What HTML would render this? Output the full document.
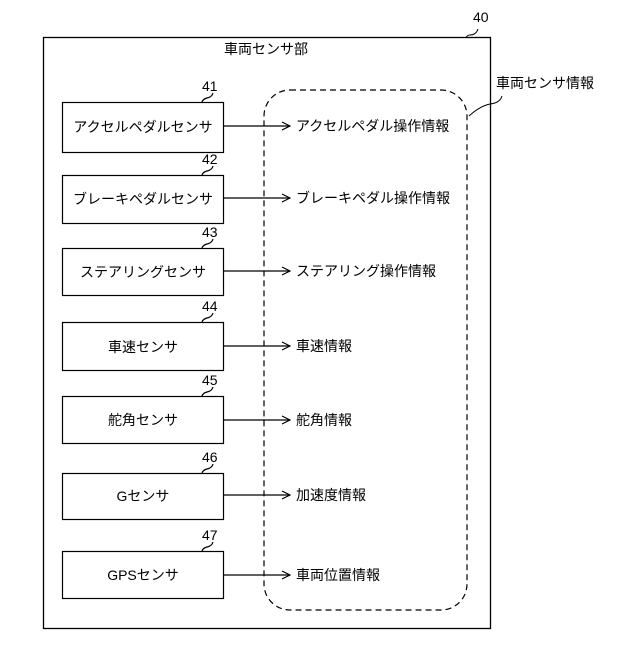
<!DOCTYPE html>
<html><head><meta charset="utf-8"><style>
body{margin:0;background:#fff}
text{font-family:"Liberation Sans","Noto Sans CJK JP",sans-serif;font-size:14px;fill:#000}
</style></head><body>
<svg width="640" height="640" viewBox="0 0 640 640" xmlns="http://www.w3.org/2000/svg">
<defs><marker id="a" markerWidth="10" markerHeight="10" refX="9" refY="5" orient="auto" markerUnits="userSpaceOnUse"><path d="M1,1 L9,5 L1,9" fill="none" stroke="#000" stroke-width="1.2"/></marker></defs>
<rect x="43.5" y="37.5" width="447" height="591" fill="none" stroke="#000" stroke-width="1.3"/>
<text x="473" y="22" font-size="15">40</text>
<path d="M478,29 q-2,6 -8,6 q-3,0 -4,3" fill="none" stroke="#000"/>
<text x="266" y="54" text-anchor="middle">車両センサ部</text>
<rect x="264" y="90" width="203" height="520" rx="26" fill="none" stroke="#000" stroke-width="1.2" stroke-dasharray="6,4"/>
<text x="496" y="88">車両センサ情報</text>
<path d="M502,96 q-2,7 -12,8 q-10,2 -21,12" fill="none" stroke="#000"/>
<g stroke="#000" stroke-width="1.2" fill="none">
<rect x="62.5" y="102.5" width="161" height="50"/>
<rect x="62.5" y="175.5" width="161" height="48"/>
<rect x="62.5" y="248.5" width="161" height="47"/>
<rect x="62.5" y="322.5" width="161" height="48"/>
<rect x="62.5" y="396.5" width="161" height="47"/>
<rect x="62.5" y="473.5" width="161" height="46"/>
<rect x="62.5" y="551.5" width="161" height="47"/>
<g marker-end="url(#a)">
<line x1="224" y1="126" x2="290" y2="126"/>
<line x1="224" y1="198" x2="290" y2="198"/>
<line x1="224" y1="271" x2="290" y2="271"/>
<line x1="224" y1="346" x2="290" y2="346"/>
<line x1="224" y1="420" x2="290" y2="420"/>
<line x1="224" y1="495" x2="290" y2="495"/>
<line x1="224" y1="575" x2="290" y2="575"/>
</g>
<path d="M213,93 q-1,4 -6,5 q-4,1 -5,4"/>
<path d="M213,166 q-1,4 -6,5 q-4,1 -5,4"/>
<path d="M213,239 q-1,4 -6,5 q-4,1 -5,4"/>
<path d="M213,313 q-1,4 -6,5 q-4,1 -5,4"/>
<path d="M213,387 q-1,4 -6,5 q-4,1 -5,4"/>
<path d="M213,464 q-1,4 -6,5 q-4,1 -5,4"/>
<path d="M213,542 q-1,4 -6,5 q-4,1 -5,4"/>
</g>
<g font-size="15">
<text x="202" y="91">41</text><text x="202" y="164">42</text><text x="202" y="237">43</text>
<text x="202" y="311">44</text><text x="202" y="385">45</text><text x="202" y="462">46</text><text x="202" y="540">47</text>
</g>
<g text-anchor="middle">
<text x="143" y="132">アクセルペダルセンサ</text>
<text x="143" y="204">ブレーキペダルセンサ</text>
<text x="143" y="277">ステアリングセンサ</text>
<text x="143" y="352">車速センサ</text>
<text x="143" y="425">舵角センサ</text>
<text x="143" y="501">Gセンサ</text>
<text x="143" y="580">GPSセンサ</text>
</g>
<text x="296" y="131">アクセルペダル操作情報</text>
<text x="296" y="203">ブレーキペダル操作情報</text>
<text x="296" y="276">ステアリング操作情報</text>
<text x="296" y="351">車速情報</text>
<text x="296" y="425">舵角情報</text>
<text x="296" y="500">加速度情報</text>
<text x="296" y="580">車両位置情報</text>
</svg>
</body></html>
